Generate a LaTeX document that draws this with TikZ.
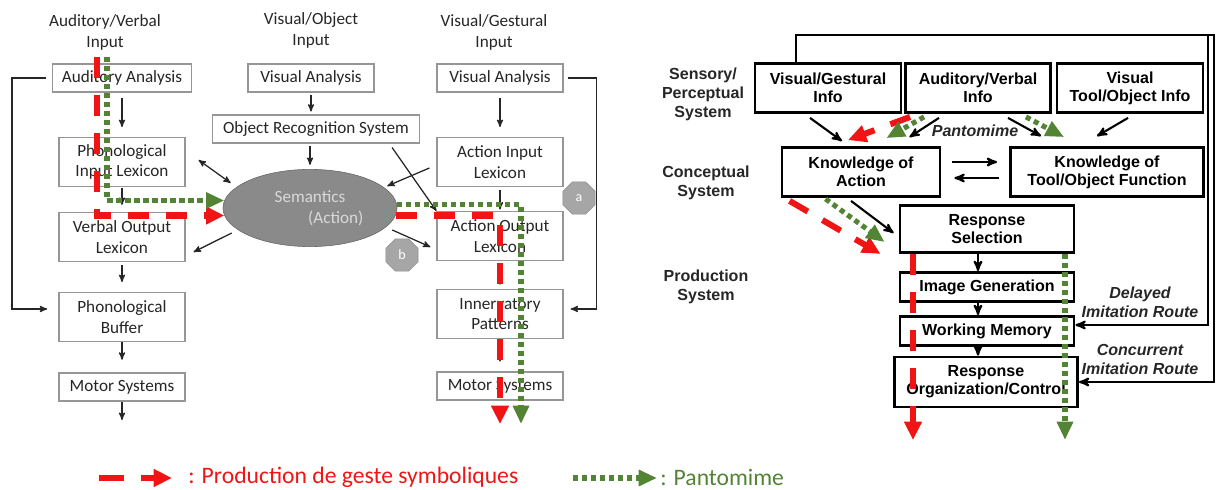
\documentclass[tikz,border=0pt]{standalone}
\usepackage{fontspec}
\setmainfont{Carlito}
\newfontfamily\arialfont{Liberation Sans}
\usepackage{tikz}
\usetikzlibrary{arrows,arrows.meta,calc,shapes.geometric}

\definecolor{symbred}{RGB}{240,20,20}
\definecolor{pantogreen}{RGB}{82,132,52}
\definecolor{boxgray}{RGB}{150,150,150}
\definecolor{semgray}{RGB}{138,138,138}

\begin{document}
\begin{tikzpicture}[
        x=0.025cm, y=-0.025cm,
        lbox/.style={draw=boxgray, line width=0.8pt, fill=white, text=black!85,
            align=center, font=\fontsize{12.2}{14.5}\selectfont,
            minimum width=3.15cm, minimum height=1.225cm, inner sep=1pt},
        lsmall/.style={lbox, minimum height=0.7cm},
        ltitle/.style={text=black!85, align=center, font=\fontsize{12.2}{15}\selectfont},
        rbox/.style={draw=black, line width=2pt, fill=white, align=center,
            font=\arialfont\bfseries\fontsize{11.4}{12.8}\selectfont, inner sep=1pt},
        rlabel/.style={align=center, text=black!85,
            font=\arialfont\bfseries\fontsize{11.4}{13.5}\selectfont},
        route/.style={align=center, text=black!85,
            font=\arialfont\bfseries\itshape\fontsize{11.4}{13.5}\selectfont},
        arrow line/.style={->, >=stealth', line width=0.9pt, black!85},
        bold arrow/.style={->, >=stealth', line width=1.5pt},
        red path/.style={symbred, line width=4.3pt, dash pattern=on 15pt off 12pt,
            -{Triangle[length=13pt,width=12pt]}},
        green path/.style={pantogreen, line width=3.6pt, dash pattern=on 3.6pt off 2.8pt,
            -{Triangle[length=13pt,width=11pt]}},
        octo/.style={regular polygon, regular polygon sides=8, fill=black!35,
            draw=black!45, text=white, minimum size=0.87cm, inner sep=0pt,
            font=\fontsize{10}{12}\selectfont},
        legend/.style={anchor=west, inner sep=0pt, font=\fontsize{16.8}{19}\selectfont},
    ]
    \useasboundingbox (0,0) rectangle (1216,490);

    % left model: inputs
    \node[ltitle] (tAud) at (105,32) {Auditory/Verbal\\Input};
    \node[ltitle] (tObj) at (311,30) {Visual/Object\\Input};
    \node[ltitle] (tGest) at (494,32) {Visual/Gestural\\Input};

    \node[lsmall, minimum width=3.475cm] (audAn) at (122,78) {Auditory Analysis};
    \node[lsmall] (objAn) at (311,78) {Visual Analysis};
    \node[lsmall] (gestAn) at (500,78) {Visual Analysis};
    \node[lsmall, minimum width=5.175cm] (ors) at (316,129) {Object Recognition System};

    % left model: lexicons
    \node[lbox] (pil) at (122,162) {Phonological\\Input Lexicon};
    \node[lbox] (ail) at (500,162) {Action Input\\Lexicon};
    \node[lbox] (vol) at (122,237) {Verbal Output\\Lexicon};
    \node[lbox] (aol) at (500,236) {Action Output\\Lexicon};
    \node[lbox] (pb) at (122,317) {Phonological\\Buffer};
    \node[lbox] (ip) at (500,314) {Innervatory\\Patterns};
    \node[lsmall] (ms1) at (122,387) {Motor Systems};
    \node[lsmall] (ms2) at (500,386) {Motor Systems};

    \node[ellipse, fill=semgray, draw=black!60, minimum width=4.35cm, minimum height=1.93cm,
          text=black!15, align=center, font=\fontsize{12.2}{15}\selectfont]
          (sem) at (310,208) {Semantics\\\hspace*{3em}(Action)};

    \node[octo] (octA) at (579,198) {a};
    \node[octo] (octB) at (402,255) {b};

    % left model: arrows
    \draw[arrow line, shorten <=4pt, shorten >=7pt] (audAn) -- (pil);
    \draw[arrow line, shorten <=0.5pt, shorten >=5pt] (pil) -- (vol);
    \draw[arrow line, shorten <=2pt, shorten >=7pt] (vol) -- (pb);
    \draw[arrow line, shorten >=9pt] (pb) -- (ms1);
    \coordinate (ms1Out) at (122,420);
    \draw[arrow line] (ms1) -- (ms1Out);

    \draw[arrow line, shorten <=1.5pt, shorten >=2pt] (objAn.south) -- (objAn.south |- ors.north);
    \draw[arrow line, shorten <=2pt, shorten >=3pt] (ors.south -| sem.north) -- (sem.north);

    \draw[arrow line, shorten <=4pt, shorten >=7pt] (gestAn) -- (ail);
    \draw[arrow line, shorten <=2pt, shorten >=1pt] (ail) -- (aol);
    \draw[arrow line, shorten <=3pt, shorten >=3pt] (aol) -- (ip);
    \draw[arrow line, shorten <=3pt, shorten >=7pt] (ip) -- (ms2);

    \draw[arrow line, <->] ($(pil.east)+(13,-2)$) -- ($(sem.west)+(8,-25)$);
    \draw[arrow line] ($(sem.west)+(9,25)$) -- ($(vol.east)+(8,15)$);
    \draw[arrow line] ($(ail.west)+(-7,6)$) -- ($(sem.east)+(-10,-22)$);
    \draw[arrow line] ($(ors.south east)+(-28,4)$) -- (aol.north west);
    \draw[arrow line] ($(sem.east)+(-5,22)$) -- ($(aol.west)+(-6,11)$);

    \draw[arrow line, shorten <=4pt, shorten >=8pt] (audAn.west) -- ++(-40,0) |- ($(pb.west)+(0,-8)$);
    \draw[arrow line, shorten <=3pt, shorten >=5pt] (gestAn.east) -- ++(33,0) |- ($(ip.east)+(0,-5)$);

    % left model: routes
    \coordinate (redIn) at (97,57);
    \coordinate (greenIn) at (107,57);
    \coordinate (redOut) at (500,424);
    \coordinate (greenOut) at (521,424);
    \draw[red path] (redIn) |- (sem.185);
    \draw[green path] (greenIn) |- (sem.175);
    \draw[red path] (sem.355) -| (redOut);
    \draw[green path] (sem.2) -| (greenOut);

    % right model: levels
    \node[rlabel] (sensLbl) at (703,94) {Sensory/\\Perceptual\\System};
    \node[rlabel] (concLbl) at (706,183) {Conceptual\\System};
    \node[rlabel] (prodLbl) at (706,287) {Production\\System};

    \node[rbox, minimum width=3.65cm, minimum height=1.225cm] (vgi) at (828,88) {Visual/Gestural\\Info};
    \node[rbox, minimum width=3.625cm, minimum height=1.225cm] (avi) at (978,88) {Auditory/Verbal\\Info};
    \node[rbox, minimum width=3.65cm, minimum height=1.225cm] (vti) at (1130,88) {Visual\\Tool/Object Info};
    \node[rbox, minimum width=3.95cm, minimum height=1.225cm] (koa) at (861,172) {Knowledge of\\Action};
    \node[rbox, minimum width=4.825cm, minimum height=1.225cm] (ktf) at (1107,172) {Knowledge of\\Tool/Object Function};
    \node[rbox, minimum width=4.35cm, minimum height=1.175cm] (rs) at (987,229) {Response\\Selection};
    \node[rbox, minimum width=4.35cm, minimum height=0.725cm] (ig) at (987,287) {Image Generation};
    \node[rbox, minimum width=4.35cm, minimum height=0.725cm] (wm) at (987,331) {Working Memory};
    \node[rbox, minimum width=4.575cm, minimum height=1.25cm] (ro) at (986,382) {Response\\Organization/Control};

    \node[route] (pantLbl) at (975,131) {Pantomime};
    \node[route] (delLbl) at (1140,302) {Delayed\\Imitation Route};
    \node[route] (concRLbl) at (1140,359) {Concurrent\\Imitation Route};

    % right model: arrows
    \draw[bold arrow] ($(vgi.south)+(-18,4)$) -- ($(koa.north)+(-19,-5)$);
    \draw[bold arrow] ($(avi.south)+(-39,4)$) -- ($(koa.north east)+(-32,-9)$);
    \draw[bold arrow] ($(avi.south)+(30,4)$) -- ($(ktf.north)+(-66,-10)$);
    \draw[bold arrow] ($(vti.south)+(-2,4)$) -- ($(ktf.north)+(-10,-10)$);
    \draw[bold arrow] ($(koa.east)+(11,-10)$) -- ($(ktf.west)+(-12,-10)$);
    \draw[bold arrow] ($(ktf.west)+(-10,6)$) -- ($(koa.east)+(13,6)$);
    \draw[bold arrow] ($(koa.south)+(-10,3)$) -- ($(rs.west)+(-5,4)$);
    \draw[bold arrow] ($(rs.south)+(-9,0)$) -- ($(ig.north)+(-9,0)$);
    \draw[bold arrow] ($(ig.south)+(-9,0)$) -- ($(wm.north)+(-9,0)$);
    \draw[bold arrow] ($(wm.south)+(-9,0)$) -- ($(ro.north)+(-8,0)$);

    \coordinate (loopA) at (1208,35);
    \coordinate (loopB) at (1214,35);
    \draw[bold arrow] ($(vgi.north west)+(42,0)$) |- (loopA) |- ($(wm.east)+(0,-6)$);
    \draw[bold arrow] (loopA) -- (loopB) |- (ro.east);

    % right model: routes
    \draw[red path] ($(avi.south west)+(6,3)$) -- ($(koa.north)+(-13,-6)$);
    \draw[green path] ($(avi.south west)+(20,3)$) -- ($(koa.north east)+(-55,-8)$);
    \draw[green path] ($(avi.south east)+(-26,3)$) -- ($(ktf.north)+(-43,-9)$);
    \draw[red path] ($(koa.south west)+(9,3)$) -- ($(rs.south west)+(-18,0)$);
    \draw[green path] ($(koa.south west)+(45,1)$) -- ($(rs.west)+(-14,13)$);

    \coordinate (redOutR) at (913,440);
    \coordinate (greenOutR) at (1065,440);
    \draw[red path] (rs.south west -| redOutR) -- (redOutR);
    \draw[green path] (rs.south east -| greenOutR) -- (greenOutR);

    % legend
    \coordinate (legRedA) at (99,478);
    \coordinate (legRedB) at (172,478);
    \draw[red path, dash pattern=on 18pt off 12pt] (legRedA) -- (legRedB);
    \node[legend, text=symbred] (legRed) at (188,477) {: Production de geste symboliques};

    \coordinate (legGreenA) at (573,478);
    \coordinate (legGreenB) at (657,478);
    \draw[green path] (legGreenA) -- (legGreenB);
    \node[legend, text=pantogreen] (legGreen) at (660,477) {: Pantomime};
\end{tikzpicture}
\end{document}
